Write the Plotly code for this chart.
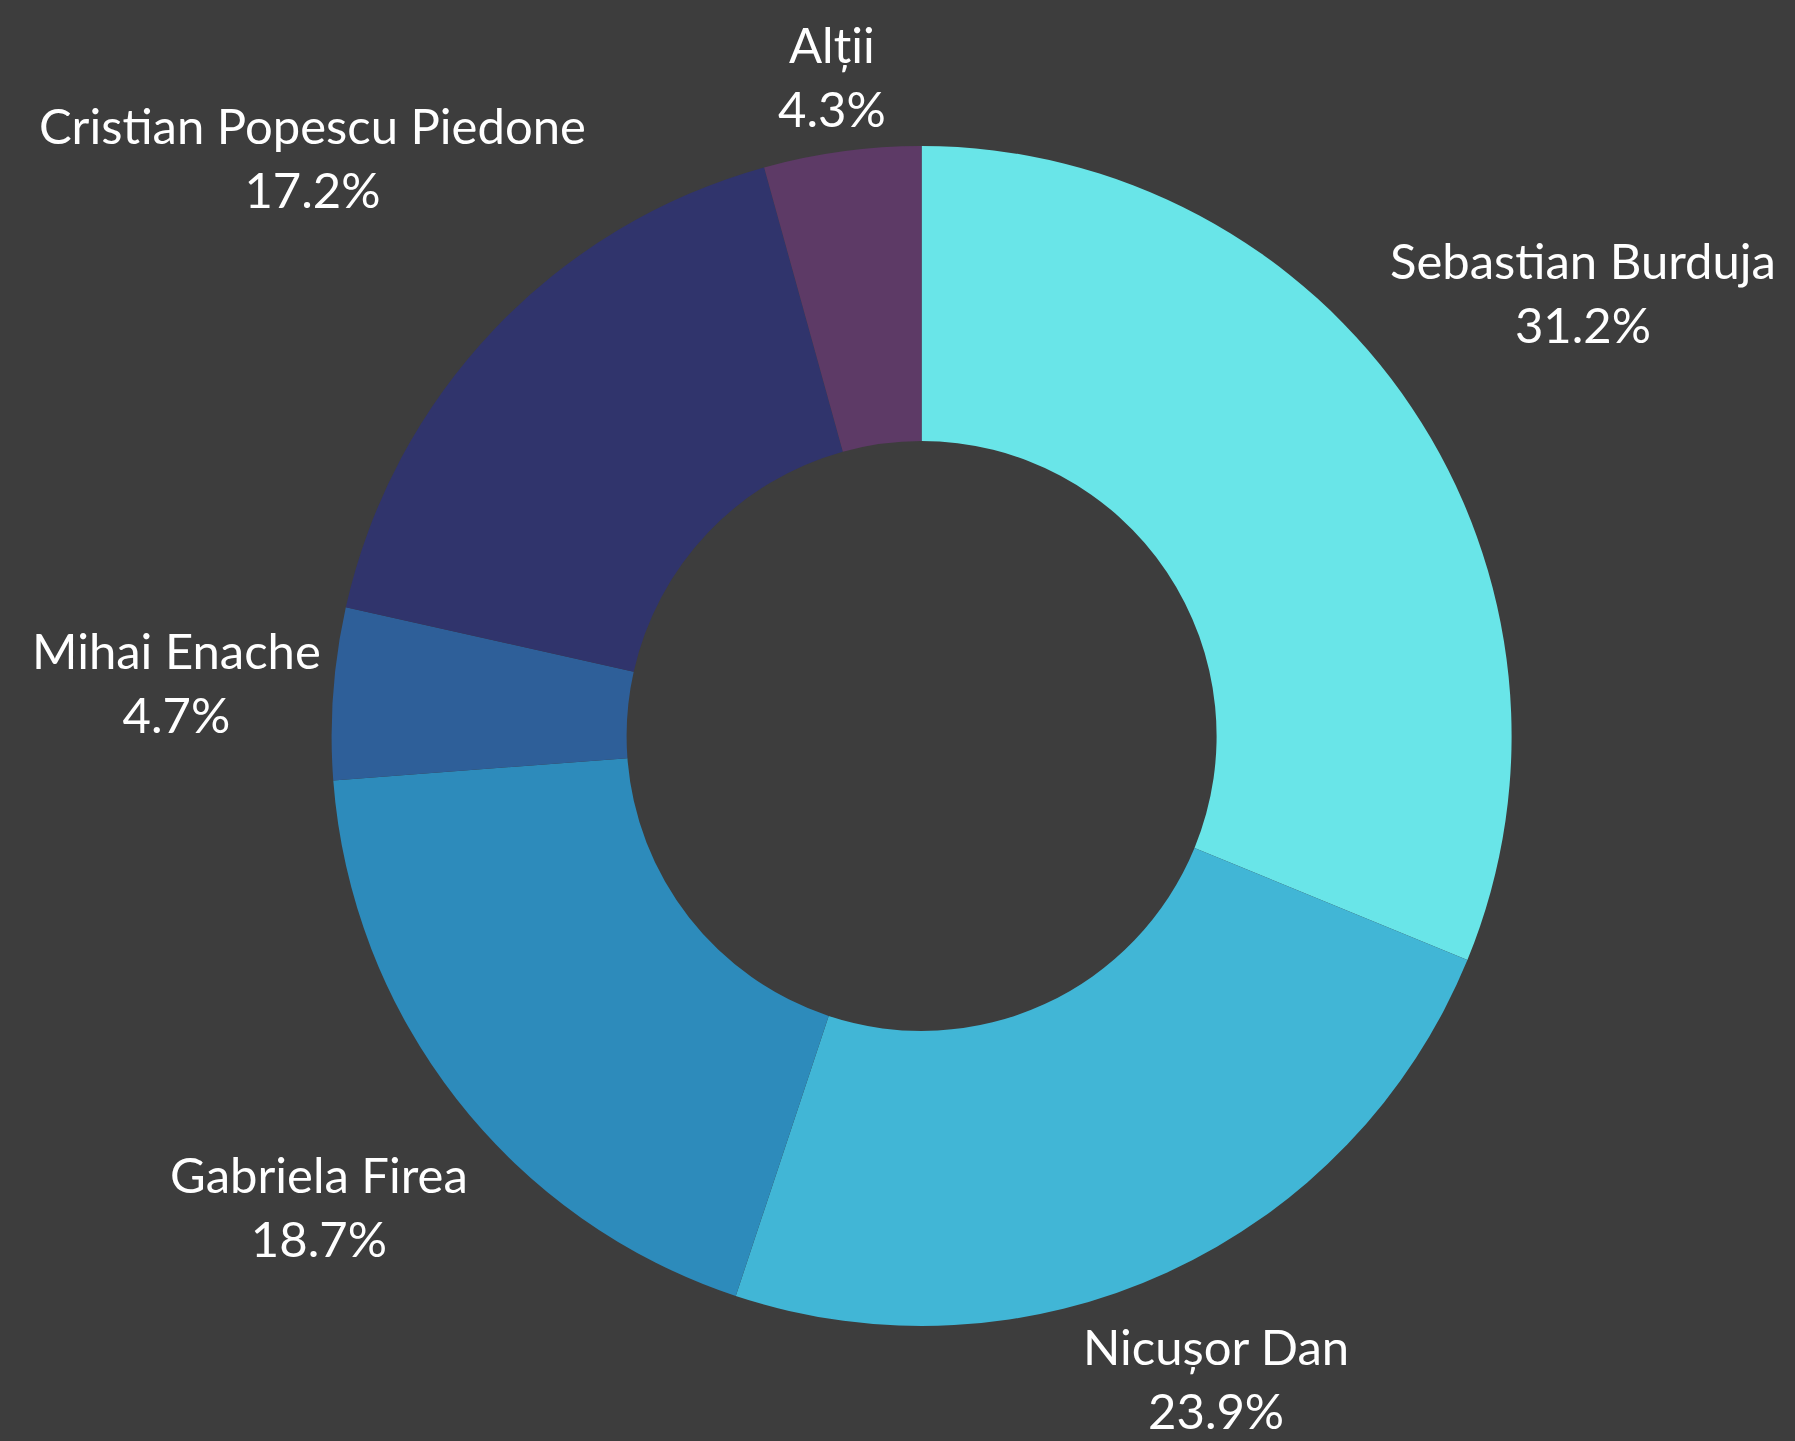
import numpy as np
import plotly.graph_objects as go

candidates = ["Sebastian Burduja", "Nicușor Dan", "Gabriela Firea", "Mihai Enache",
              "Cristian Popescu Piedone", "Alții"]
shares = [31.2, 23.9, 18.7, 4.7, 17.2, 4.3]
colors = ["#69e5e8", "#41b6d6", "#2d8bbb", "#2e5f99", "#30346c", "#5d3a66"]

BG = "#3d3d3d"
W, H = 1795, 1441
CX, CY, R = 921.6, 736.0, 590.0   # donut centre / outer radius in px
FS = 49
FONT = "Lato, Open Sans, sans-serif"

fig = go.Figure(go.Pie(
    labels=candidates,
    values=shares,
    hole=0.5,
    sort=False,
    direction="clockwise",
    rotation=0,
    marker=dict(colors=colors, line=dict(width=0)),
    textinfo="none",
    hoverinfo="label+percent",
    showlegend=False,
    domain=dict(x=[(CX - R) / W, (CX + R) / W], y=[1 - (CY + R) / H, 1 - (CY - R) / H]),
))

# labels outside the ring, centred on each slice's mid-angle ray
vals = np.array(shares, dtype=float)
ends = np.cumsum(vals) / vals.sum() * 2 * np.pi
mids = ends - vals / vals.sum() * np.pi
r0 = R * 1.03
for name, v, ang in zip(candidates, shares, mids):
    s, c = np.sin(ang), np.cos(ang)
    lines = [name, f"{v:.1f}%"]
    a = 0.5 * max(len(t) for t in lines) * 0.463 * FS
    b = 1.05 * FS
    d = r0 + a * abs(s) + b * abs(c)
    fig.add_annotation(
        x=(CX + d * s) / W, y=1 - (CY - d * c) / H,
        xref="paper", yref="paper",
        text="<br>".join(lines),
        showarrow=False, xanchor="center", yanchor="middle", align="center",
        font=dict(family=FONT, size=FS, color="white"),
    )

fig.update_layout(
    width=W,
    height=H,
    paper_bgcolor=BG,
    plot_bgcolor=BG,
    margin=dict(l=0, r=0, t=0, b=0),
)

fig.write_html("out.html", config={"displayModeBar": False},
               post_script="document.body.style.margin='0';document.body.style.background='%s';" % BG)
